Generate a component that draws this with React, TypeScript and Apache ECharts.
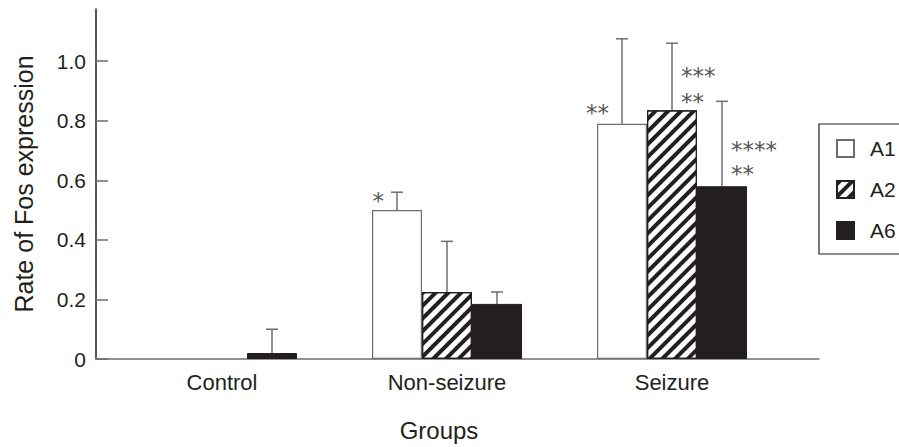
import React, { useEffect, useRef } from "react";
import * as echarts from "echarts";

// ---- data ----
const categories = ["Control", "Non-seizure", "Seizure"];
const groupPos = [1, 2, 3];
const seriesNames = ["A1", "A2", "A6"];
const a1Values = [0, 0.5, 0.79];
const a2Values = [0, 0.225, 0.835];
const a6Values = [0.02, 0.185, 0.58];
const a1Sd = [0, 0.06, 0.285];
const a2Sd = [0, 0.17, 0.225];
const a6Sd = [0.08, 0.04, 0.285];
const yTicks = [0, 0.2, 0.4, 0.6, 0.8, 1.0];

// significance marks: group index, series index, level, text
const starGroup = [1, 2, 2, 2, 2, 2];
const starSeries = [0, 0, 1, 1, 2, 2];
const starLevel = [0.547, 0.843, 0.967, 0.881, 0.717, 0.637];
const starText = ["*", "**", "***", "**", "****", "**"];

const BAR_W = 50;
const DARK = "#231f20";
const GRAY = "#6d6e71";
const FONT = '"Liberation Sans", Arial, Helvetica, sans-serif';

export default function App() {
  const ref = useRef<HTMLDivElement>(null);
  useEffect(() => {
    if (!ref.current) return;
    const chart = echarts.init(ref.current, undefined, { renderer: "svg" });
    const valueSets = [a1Values, a2Values, a6Values];
    const sdSets = [a1Sd, a2Sd, a6Sd];
    const styles = [
      { color: "#ffffff", borderColor: GRAY, borderWidth: 1.2 },
      {
        color: "#ffffff",
        borderColor: DARK,
        borderWidth: 1.2,
        decal: {
          symbol: "rect",
          symbolSize: 1,
          dashArrayX: [1, 0],
          dashArrayY: [4, 5],
          rotation: -Math.PI / 4,
          color: DARK,
        },
      },
      { color: DARK, borderColor: DARK, borderWidth: 1 },
    ];
    const barSeries = seriesNames.map((name, si) => ({
      name,
      type: "bar",
      barWidth: BAR_W,
      barGap: "0%",
      itemStyle: styles[si],
      emphasis: { disabled: true },
      data: groupPos.map((g, gi) => {
        const v = valueSets[si][gi];
        return v === 0
          ? { value: [g, v], itemStyle: { borderWidth: 0 } }
          : { value: [g, v] };
      }),
      z: 2,
    }));
    const errData: number[][] = [];
    sdSets.forEach((sd, si) =>
      sd.forEach((v, gi) => {
        if (v > 0) errData.push([groupPos[gi], valueSets[si][gi], valueSets[si][gi] + v, si]);
      })
    );
    const option: any = {
      animation: false,
      grid: { left: 96, top: 9, right: 80, bottom: 86 },
      legend: {
        data: seriesNames,
        orient: "vertical",
        left: 819,
        top: 124,
        padding: [14, 60, 13, 17],
        itemWidth: 17,
        itemHeight: 17,
        itemGap: 20,
        icon: "rect",
        selectedMode: false,
        borderColor: DARK,
        borderWidth: 1.2,
        textStyle: { fontSize: 21, color: DARK, fontFamily: FONT, padding: [0, 0, 0, 11] },
      },
      xAxis: {
        type: "value",
        min: 0.44,
        max: 0.44 + 723 / 225,
        name: "Groups",
        nameLocation: "middle",
        nameGap: 59,
        nameTextStyle: { fontSize: 24, color: DARK, fontFamily: FONT, padding: [0, 37, 0, 0] },
        splitLine: { show: false },
        axisTick: { show: false },
        axisLine: { show: true, lineStyle: { color: GRAY, width: 1.5 } },
        axisLabel: {
          customValues: groupPos,
          formatter: (v: number) => categories[groupPos.indexOf(v)] ?? "",
          fontSize: 22,
          color: DARK,
          fontFamily: FONT,
          margin: 12,
        },
      },
      yAxis: {
        type: "value",
        min: 0,
        max: 1.175,
        interval: 0.2,
        name: "Rate of Fos expression",
        nameLocation: "middle",
        nameRotate: 90,
        nameGap: 60,
        nameTextStyle: { fontSize: 25, color: DARK, fontFamily: FONT },
        splitLine: { show: false },
        axisLine: { show: true, lineStyle: { color: DARK, width: 1.5 } },
        axisTick: {
          show: true,
          inside: true,
          length: 12,
          customValues: yTicks,
          lineStyle: { color: GRAY, width: 1.5 },
        },
        axisLabel: {
          customValues: yTicks,
          formatter: (v: number) => (v === 0 ? "0" : v.toFixed(1)),
          fontSize: 21,
          color: DARK,
          fontFamily: FONT,
          margin: 10,
        },
      },
      series: [
        ...barSeries,
        {
          type: "custom",
          name: "err",
          z: 3,
          silent: true,
          data: errData,
          renderItem: (params: any, api: any) => {
            const g = api.value(0);
            const top = api.coord([g, api.value(1)]);
            const hi = api.coord([g, api.value(2)]);
            const si = api.value(3);
            const cx = top[0] + (si - 1) * BAR_W;
            const ls = { stroke: GRAY, lineWidth: 1.5 };
            return {
              type: "group",
              children: [
                { type: "line", shape: { x1: cx, y1: top[1], x2: cx, y2: hi[1] }, style: ls },
                { type: "line", shape: { x1: cx - 6, y1: hi[1], x2: cx + 6, y2: hi[1] }, style: ls },
              ],
            };
          },
        },
        {
          type: "custom",
          name: "stars",
          z: 4,
          silent: true,
          data: starGroup.map((gi, i) => [groupPos[gi], starSeries[i], starLevel[i]]),
          renderItem: (params: any, api: any) => {
            const p = api.coord([api.value(0), api.value(2)]);
            const si = api.value(1);
            const bc = p[0] + (si - 1) * BAR_W;
            const left = si === 0;
            return {
              type: "text",
              x: left ? bc - 13 : bc + 9,
              y: p[1] + 5,
              style: {
                text: starText[params.dataIndex],
                fontSize: 23,
                fontFamily: '"DejaVu Sans", sans-serif',
                fill: "#555",
                align: left ? "right" : "left",
                verticalAlign: "middle",
                textAlign: left ? "right" : "left",
                textVerticalAlign: "middle",
              },
            };
          },
        },
      ],
    };
    chart.setOption(option);
    return () => chart.dispose();
  }, []);
  return (
    <div
      ref={ref}
      style={{ position: "fixed", left: 0, top: 0, width: 899, height: 447, background: "#fff" }}
    />
  );
}
